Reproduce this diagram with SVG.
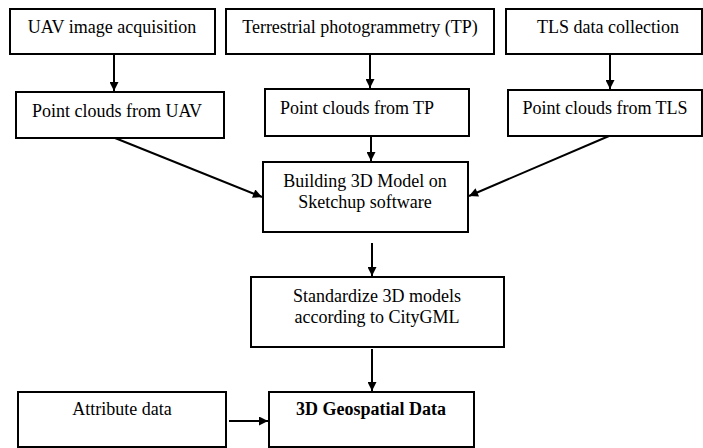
<svg xmlns="http://www.w3.org/2000/svg" width="703" height="448" viewBox="0 0 703 448">
<defs>
<style>
.box{fill:#fff;stroke:#000;stroke-width:2}
text{font-family:'Liberation Serif','Times New Roman',serif;font-size:18px;fill:#000;text-anchor:middle}
.b{font-weight:bold}
.c{stroke:#000;stroke-width:2;fill:none;marker-end:url(#ah)}
</style>
<marker id="ah" viewBox="0 0 10 10" refX="10" refY="5" markerWidth="5" markerHeight="4.5" orient="auto" markerUnits="strokeWidth">
<path d="M0,0 L10,5 L0,10 z" fill="#000"/>
</marker>
</defs>
<rect width="703" height="448" fill="#fff"/>
<g id="connectors">
<line class="c" x1="114" y1="55" x2="114" y2="91"/>
<line class="c" x1="370" y1="55" x2="370" y2="88"/>
<line class="c" x1="610" y1="55" x2="610" y2="89"/>
<line class="c" x1="115" y1="138" x2="262" y2="197"/>
<line class="c" x1="371" y1="136" x2="371" y2="161"/>
<line class="c" x1="609" y1="136" x2="469" y2="196"/>
<line class="c" x1="372" y1="243" x2="372" y2="276"/>
<line class="c" x1="372" y1="349" x2="372" y2="391"/>
<line class="c" x1="229" y1="421" x2="268" y2="421"/>
</g>
<g id="uav-acq"><rect class="box" x="10" y="9" width="205" height="45"/><text x="112" y="33">UAV image acquisition</text></g>
<g id="tp"><rect class="box" x="226" y="9" width="268" height="45"/><text x="360" y="33">Terrestrial photogrammetry (TP)</text></g>
<g id="tls"><rect class="box" x="506" y="9" width="196" height="45"/><text x="608" y="33">TLS data collection</text></g>
<g id="pc-uav"><rect class="box" x="16" y="92" width="208" height="46"/><text x="117" y="117">Point clouds from UAV</text></g>
<g id="pc-tp"><rect class="box" x="265" y="89" width="204" height="47"/><text x="357" y="114">Point clouds from TP</text></g>
<g id="pc-tls"><rect class="box" x="508" y="90" width="194" height="46"/><text x="605" y="114">Point clouds from TLS</text></g>
<g id="building"><rect class="box" x="263" y="162" width="205" height="70"/><text x="365" y="187">Building 3D Model on</text><text x="365" y="208">Sketchup software</text></g>
<g id="standardize"><rect class="box" x="251" y="277" width="253" height="70"/><text x="377" y="302">Standardize 3D models</text><text x="377" y="323">according to CityGML</text></g>
<g id="attribute"><rect class="box" x="18" y="392" width="208" height="55"/><text x="122" y="415">Attribute data</text></g>
<g id="geo"><rect class="box" x="269" y="392" width="205" height="55"/><text class="b" x="371" y="415">3D Geospatial Data</text></g>
</svg>
